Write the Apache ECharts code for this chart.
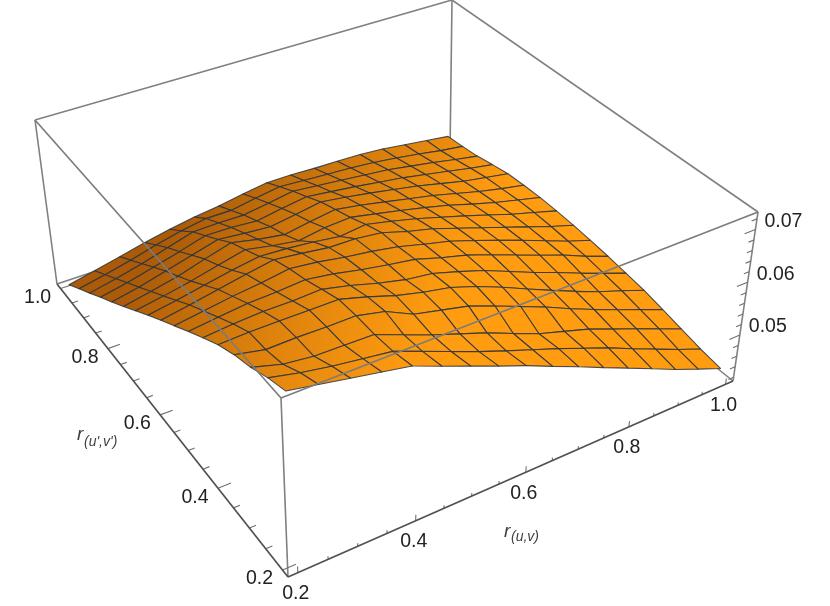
<!DOCTYPE html>
<html>
<head>
<meta charset="utf-8">
<style>html,body{margin:0;padding:0;background:#fff}#chart{width:830px;height:606px}</style>
<script src="https://cdn.jsdelivr.net/npm/echarts@6/dist/echarts.min.js"></script>
</head>
<body>
<div id="chart"></div>
<script>
// grid of the surface
const rValues = [0.2,0.25,0.3,0.35,0.4,0.45,0.5,0.55,0.6,0.65,0.7,0.75,0.8,0.85,0.9,0.95,1.0];
// one row per r(u',v') value, one column per r(u,v) value
const zRows = [
  [.0726,.0715,.0704,.0693,.0682,.0660,.0639,.0618,.0598,.0576,.0555,.0533,.0512,.0491,.0470,.0451,.0433],
  [.0713,.0700,.0690,.0682,.0674,.0653,.0632,.0611,.0592,.0574,.0556,.0537,.0518,.0497,.0477,.0457,.0439],
  [.0696,.0680,.0673,.0672,.0671,.0650,.0629,.0611,.0593,.0572,.0552,.0537,.0522,.0503,.0485,.0466,.0447],
  [.0684,.0672,.0673,.0672,.0672,.0660,.0635,.0623,.0611,.0592,.0572,.0552,.0530,.0510,.0491,.0473,.0455],
  [.0668,.0670,.0670,.0670,.0670,.0655,.0638,.0625,.0615,.0598,.0578,.0556,.0535,.0515,.0496,.0480,.0463],
  [.0647,.0652,.0655,.0655,.0657,.0645,.0630,.0618,.0611,.0596,.0580,.0560,.0540,.0522,.0503,.0485,.0468],
  [.0626,.0632,.0638,.0640,.0644,.0636,.0625,.0616,.0608,.0593,.0580,.0563,.0545,.0527,.0510,.0490,.0473],
  [.0604,.0612,.0620,.0626,.0634,.0628,.0619,.0612,.0603,.0590,.0578,.0562,.0545,.0528,.0510,.0492,.0477],
  [.0583,.0592,.0602,.0612,.0621,.0615,.0608,.0607,.0601,.0586,.0574,.0558,.0542,.0526,.0510,.0494,.0480],
  [.0561,.0570,.0580,.0590,.0598,.0595,.0590,.0583,.0589,.0578,.0566,.0552,.0538,.0523,.0508,.0495,.0482],
  [.0539,.0548,.0558,.0570,.0582,.0572,.0564,.0572,.0575,.0565,.0555,.0544,.0532,.0518,.0505,.0494,.0483],
  [.0517,.0527,.0538,.0553,.0567,.0556,.0548,.0556,.0563,.0555,.0545,.0535,.0525,.0513,.0501,.0491,.0482],
  [.0496,.0506,.0519,.0532,.0545,.0540,.0536,.0543,.0551,.0544,.0536,.0527,.0518,.0507,.0496,.0488,.0480],
  [.0476,.0486,.0498,.0511,.0525,.0524,.0520,.0528,.0535,.0529,.0523,.0516,.0509,.0500,.0491,.0482,.0474],
  [.0455,.0465,.0477,.0491,.0505,.0506,.0505,.0512,.0520,.0515,.0510,.0505,.0500,.0492,.0484,.0475,.0467],
  [.0435,.0445,.0456,.0469,.0480,.0488,.0488,.0496,.0503,.0500,.0497,.0494,.0490,.0484,.0477,.0469,.0463],
  [.0415,.0425,.0436,.0447,.0457,.0465,.0471,.0479,.0486,.0486,.0484,.0483,.0482,.0478,.0472,.0466,.0460]
];
const rTicks = [0.2,0.25,0.3,0.35,0.4,0.45,0.5,0.55,0.6,0.65,0.7,0.75,0.8,0.85,0.9,0.95,1.0];
const rLabels = ['0.2','0.4','0.6','0.8','1.0'];
const zTicks = [0.042,0.044,0.046,0.048,0.05,0.052,0.054,0.056,0.058,0.06,0.062,0.064,0.066,0.068,0.07,0.072];
const zLabels = ['0.05','0.06','0.07'];

// box range and its corners on screen: [front, right, back, left]
const rBox = [0.184, 1.016];
const zBox = [0.0413, 0.0733];
const bottomQuad = [[288,577],[733,381],[450,153],[57,284]];
const topQuad = [[281,398],[758,212],[452,0],[35,120]];

function makeHomography(q) {
  const [p0,p1,p2,p3] = q;
  const dx1=p1[0]-p2[0], dx2=p3[0]-p2[0], sx=p0[0]-p1[0]+p2[0]-p3[0];
  const dy1=p1[1]-p2[1], dy2=p3[1]-p2[1], sy=p0[1]-p1[1]+p2[1]-p3[1];
  const den=dx1*dy2-dx2*dy1;
  const g=(sx*dy2-dx2*sy)/den, h=(dx1*sy-sx*dy1)/den;
  const a=p1[0]-p0[0]+g*p1[0], b=p3[0]-p0[0]+h*p3[0];
  const d=p1[1]-p0[1]+g*p1[1], e=p3[1]-p0[1]+h*p3[1];
  return (s,t) => {
    const w=g*s+h*t+1;
    return [(a*s+b*t+p0[0])/w,(d*s+e*t+p0[1])/w];
  };
}
const bottomH = makeHomography(bottomQuad);
const topH = makeHomography(topQuad);

// data values to screen
function project(u,v,z) {
  const s=(u-rBox[0])/(rBox[1]-rBox[0]);
  const t=(v-rBox[0])/(rBox[1]-rBox[0]);
  const k=(z-zBox[0])/(zBox[1]-zBox[0]);
  const b=bottomH(s,t), p=topH(s,t);
  return [b[0]+(p[0]-b[0])*k, b[1]+(p[1]-b[1])*k];
}

const dark=[170,90,8], bright=[255,156,16];
function shade(i,j) {
  const n=rValues.length-1;
  const zv=zRows[Math.min(j+1,n)][i]-zRows[Math.max(j-1,0)][i];
  const p=.5*i/n+.5*(1-j/n);
  let t=2*p-.25+8*zv;
  t=Math.max(0,Math.min(1,t));
  const c=dark.map((d,k)=>Math.round(d+(bright[k]-d)*t));
  return 'rgb('+c.join(',')+')';
}

// cells from the far corner to the near one
const cells=[];
for (let j=rValues.length-2;j>=0;j--) for (let i=rValues.length-2;i>=0;i--) cells.push([i,j]);

function renderCell(params,api) {
  const i=api.value(0), j=api.value(1);
  const pts=[[i,j],[i+1,j],[i+1,j+1],[i,j+1]].map(c=>project(rValues[c[0]],rValues[c[1]],zRows[c[1]][c[0]]));
  const from=pts[3], to=pts[1];
  return {
    type:'polygon',
    shape:{points:pts},
    style:{
      fill:new echarts.graphic.LinearGradient(from[0],from[1],to[0],to[1],[
        {offset:0,color:shade(i,j+1)},{offset:1,color:shade(i+1,j)}
      ],true),
      stroke:'rgba(45,50,60,0.85)',
      lineWidth:1.1,
      lineJoin:'round'
    }
  };
}

const [r0,r1]=rBox, [z0,z1]=zBox;
const backEdges=[
  [r0,r1,z1,r1,r1,z1],[r1,r1,z1,r1,r0,z1],
  [r0,r1,z0,r0,r1,z1],[r1,r1,z0,r1,r1,z1],[r1,r0,z0,r1,r0,z1],
  [r0,r1,z0,r1,r1,z0],[r1,r1,z0,r1,r0,z0],[r0,r0,z0,r0,r0,z1]
];
const frontEdges=[[r0,r0,z1,r0,r1,z1],[r0,r0,z1,r1,r0,z1]];
const axisEdges=[[r0,r0,z0,r1,r0,z0],[r0,r0,z0,r0,r1,z0]];
const uTick=.022, zTickLen=.0011;
const tickEdges=[];
rTicks.forEach(r=>{
  const m=Math.round(r*100)%20===0?1:.5;
  tickEdges.push([r,r0,z0,r,r0,z0+zTickLen*m]);
  tickEdges.push([r0,r,z0,r0+uTick*m,r,z0]);
});
zTicks.forEach(z=>{
  const m=Math.round(z*1000)%10===0?1:.5;
  tickEdges.push([r1,r0,z,r1-uTick*m,r0,z]);
});

function lineSeries(data,stroke,width,zlevel) {
  return {
    type:'custom',coordinateSystem:'none',silent:true,z:zlevel,data:data,
    renderItem(params,api){
      const a=project(api.value(0),api.value(1),api.value(2));
      const b=project(api.value(3),api.value(4),api.value(5));
      return {type:'line',shape:{x1:a[0],y1:a[1],x2:b[0],y2:b[1]},style:{stroke:stroke,lineWidth:width}};
    }
  };
}

function label(text,x,y,size,extra) {
  return {type:'text',x:x,y:y,silent:true,style:Object.assign({
    text:text,fill:'#222',font:size+'px "Liberation Sans"',align:'center',verticalAlign:'middle'},extra||{})};
}
const graphics=[];
rLabels.forEach(t=>{
  const r=+t;
  let p=project(r,r0,z0);
  graphics.push(label(t,p[0]-2,p[1]+21,19.5));
  p=project(r0,r,z0);
  graphics.push(label(t,p[0]-23,p[1]+9,19.5));
});
zLabels.forEach(t=>{
  const p=project(r1,r0,+t);
  graphics.push(label(t,p[0]+28,p[1]-8,19.5));
});
const italic={fill:'#404040',align:'left'};
graphics.push(label('r',504,532,19,Object.assign({},italic,{font:'italic 19px "Liberation Sans"'})));
graphics.push(label('(u,v)',511,537,14,Object.assign({},italic,{font:'italic 14px "Liberation Sans"'})));
graphics.push(label("r",77,435,19,Object.assign({},italic,{font:'italic 19px "Liberation Sans"'})));
graphics.push(label("(u',v')",84,442,14,Object.assign({},italic,{font:'italic 14px "Liberation Sans"'})));

const chart=echarts.init(document.getElementById('chart'),null,{renderer:'canvas'});
chart.setOption({
  animation:false,
  backgroundColor:'#fff',
  graphic:graphics,
  series:[
    lineSeries(backEdges,'#808080',1.6,1),
    lineSeries(tickEdges,'#707070',1.1,1),
    lineSeries(axisEdges,'#505050',1.7,1),
    {type:'custom',coordinateSystem:'none',silent:true,z:2,data:cells,renderItem:renderCell},
    lineSeries(frontEdges,'#7c7c7c',1.7,3)
  ]
});
</script>
</body>
</html>
